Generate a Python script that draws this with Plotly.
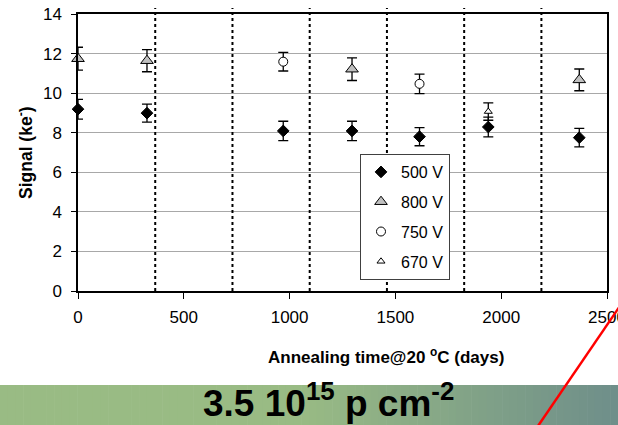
import plotly.graph_objects as go

# ---- data ----
t_500 = [0, 326, 970, 1295, 1614, 1939, 2369]
s_500 = [9.19, 8.99, 8.09, 8.09, 7.80, 8.29, 7.75]
e_500 = [0.50, 0.45, 0.49, 0.49, 0.46, 0.50, 0.47]

t_800 = [0, 326, 1295, 2369]
s_800 = [11.74, 11.64, 11.21, 10.67]
e_800 = [0.58, 0.56, 0.57, 0.55]

t_750 = [970, 1614]
s_750 = [11.59, 10.47]
e_750 = [0.47, 0.49]

t_670 = [1939]
s_670 = [9.07]
e_670 = [0.44]

year_marks = [365, 730, 1095, 1460, 1825, 2190]
x_ticks = [0, 500, 1000, 1500, 2000, 2500]
y_ticks = [0, 2, 4, 6, 8, 10, 12, 14]

FONT = "Liberation Sans, Arial, sans-serif"

W, H = 618, 425
L, R, T, B = 78, 11, 14, 134
pw, ph = W - L - R, H - T - B


def px_x(px):
    return (px - L) / pw


def px_y(py):
    return (H - B - py) / ph


fig = go.Figure()


def add(t, s, e, name, symbol, size, fill):
    fig.add_trace(go.Scatter(
        x=t, y=s, name=name, mode="markers", legendgroup=name,
        marker=dict(symbol=symbol, size=size, color=fill,
                    line=dict(color="black", width=1)),
        error_y=dict(type="data", array=e, visible=True, color="black",
                     thickness=1.3, width=5),
        cliponaxis=False,
    ))


add(t_500, s_500, e_500, "500 V", "diamond", 9, "black")
add(t_800, s_800, e_800, "800 V", "triangle-up", 11, "#C0C0C0")
add(t_750, s_750, e_750, "750 V", "circle", 9, "white")
add(t_670, s_670, e_670, "670 V", "triangle-up", 7, "white")

shapes = []
# yearly dotted lines
for xm in year_marks:
    shapes.append(dict(type="line", xref="x", yref="paper", x0=xm, x1=xm,
                       y0=0, y1=px_y(8), line=dict(color="black", width=2, dash="dot"),
                       layer="above"))

# gradient banner (strips)
c_left = (153, 187, 132)
c_right = (110, 142, 138)
n = 80
x_start, x_end = 0, W
for i in range(n):
    a = x_start + (x_end - x_start) * i / n
    b = x_start + (x_end - x_start) * (i + 1) / n
    mid = (a + b) / 2
    f = 0 if mid < 300 else (mid - 300) / (W - 300)
    col = tuple(round(c_left[k] + (c_right[k] - c_left[k]) * f) for k in range(3))
    shapes.append(dict(type="rect", xref="paper", yref="paper",
                       x0=px_x(a), x1=px_x(b + 0.6), y0=px_y(426), y1=px_y(385),
                       fillcolor="rgb(%d,%d,%d)" % col, line=dict(width=0),
                       layer="above"))

# red line
shapes.append(dict(type="line", xref="paper", yref="paper",
                   x0=px_x(538), y0=px_y(426), x1=px_x(622), y1=px_y(303),
                   line=dict(color="#FF0000", width=2.5), layer="above"))

annotations = [
    dict(text="<b>Annealing time@20 <sup>o</sup>C (days)</b>", xref="paper", yref="paper",
         x=px_x(386), y=px_y(356), showarrow=False, xanchor="center", yanchor="middle",
         font=dict(family=FONT, size=17, color="black")),
    dict(text="<b>Signal (ke<sup>-</sup>)</b>", xref="paper", yref="paper",
         x=px_x(25), y=px_y(153), showarrow=False, xanchor="center", yanchor="middle",
         textangle=-90, font=dict(family=FONT, size=17.5, color="black")),
    dict(text="<b>3.5 10<sup>15</sup> p cm<sup>-2</sup></b>", xref="paper", yref="paper",
         x=px_x(328), y=px_y(401), showarrow=False, xanchor="center", yanchor="middle",
         font=dict(family=FONT, size=37, color="black")),
]

fig.update_layout(
    width=W, height=H,
    margin=dict(l=L, r=R, t=T, b=B, pad=0, autoexpand=False),
    paper_bgcolor="white", plot_bgcolor="white",
    font=dict(family=FONT, size=16, color="black"),
    showlegend=True,
    legend=dict(x=px_x(360), y=px_y(154), xanchor="left", yanchor="top",
                bgcolor="white", bordercolor="#404040", borderwidth=1,
                font=dict(family=FONT, size=16, color="black"),
                tracegroupgap=6, itemwidth=30),
    shapes=shapes,
    annotations=annotations,
    xaxis=dict(range=[0, 2500], tickvals=x_ticks, ticktext=[str(v) for v in x_ticks],
               showgrid=False, zeroline=False, showline=True, linecolor="black",
               linewidth=1.5, mirror=True, ticks="outside", ticklen=6,
               tickcolor="black", tickwidth=1.3, ticklabelstandoff=4,
               ticklabeloverflow="allow", automargin=False,
               tickfont=dict(family=FONT, size=17, color="black"), fixedrange=True),
    yaxis=dict(range=[0, 14], tickvals=y_ticks, ticktext=[str(v) for v in y_ticks],
               showgrid=True, gridcolor="#A8A8A8", gridwidth=1, zeroline=False,
               showline=True, linecolor="black", linewidth=1.5, mirror=True,
               ticks="outside", ticklen=5, tickcolor="black", tickwidth=1.3,
               ticklabelstandoff=6, ticklabeloverflow="allow", automargin=False,
               tickfont=dict(family=FONT, size=17, color="black"), fixedrange=True),
)

fig.write_html(
    "out.html",
    config={"displayModeBar": False},
    post_script="document.body.style.margin='0';document.body.style.overflow='hidden';",
)
